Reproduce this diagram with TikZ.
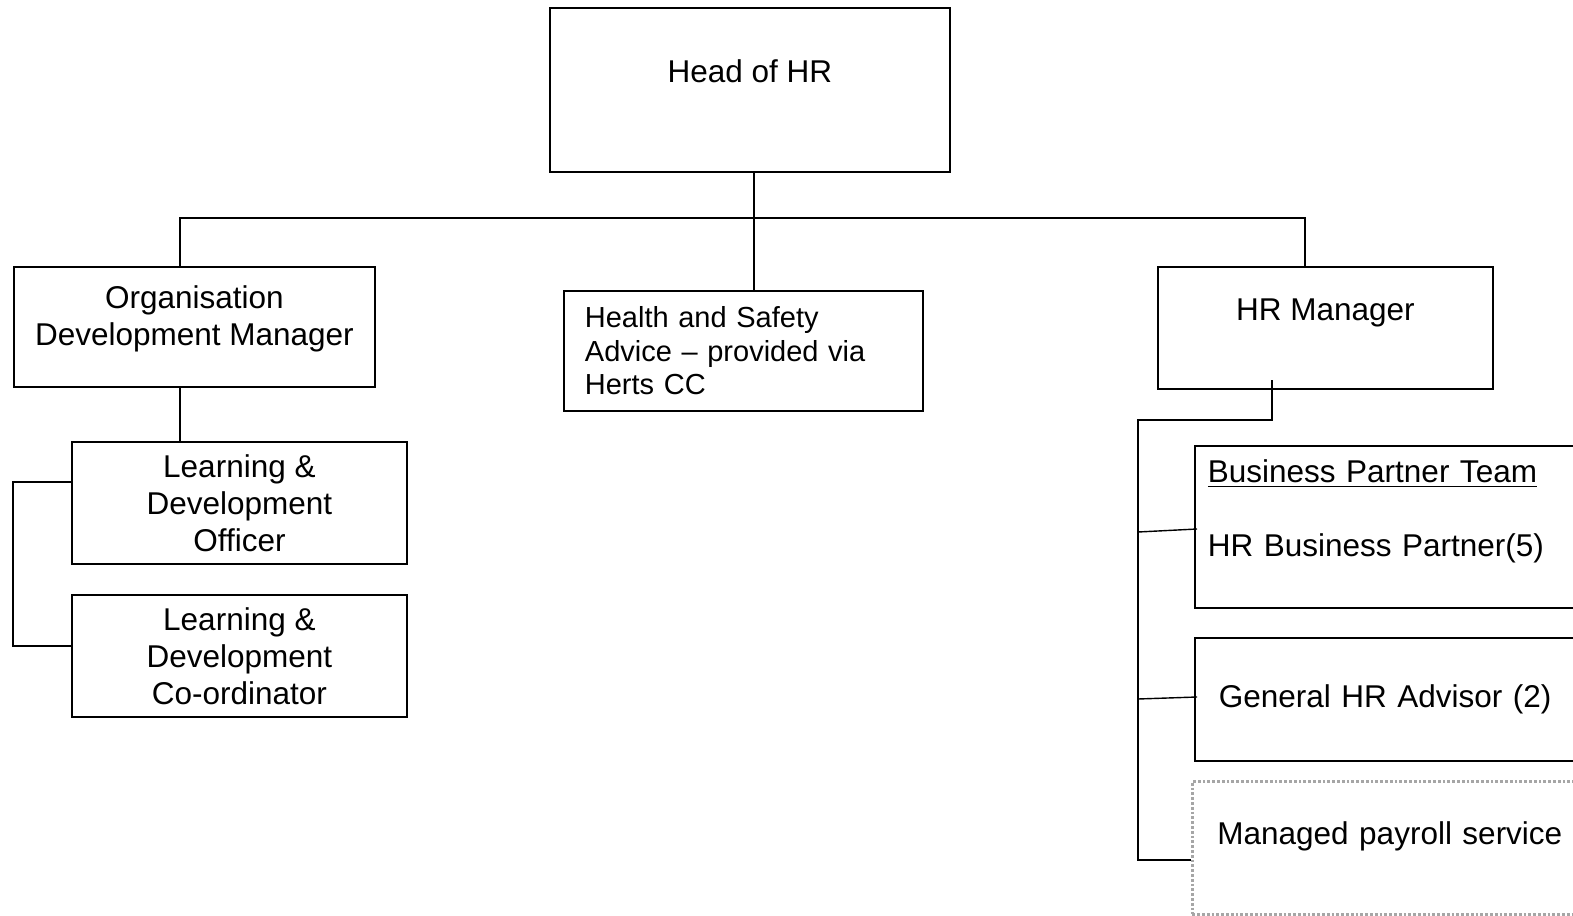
\documentclass[tikz,border=0pt]{standalone}
\usepackage{fontspec}
\setmainfont{Liberation Sans}

\begin{document}
\begin{tikzpicture}[x=0.5pt,y=-0.5pt,line width=0.9pt,
    font=\fontsize{15.75}{18.5}\selectfont,
    box/.style={draw,rectangle,anchor=north west,inner sep=0pt,align=center},
    leftbox/.style={box,align=left},
    payrollbox/.style={leftbox,draw=gray!70,densely dotted,line width=1.4pt}]
  \useasboundingbox (0,0) rectangle (1573,915);
  \clip (0,0) rectangle (1573,915);

  % top
  \node[box,minimum width=200pt,minimum height=82pt] (head) at (549,7) {Head of HR\\ ~};

  % second row
  \node[box,minimum width=180.5pt,minimum height=60pt] (odm) at (13,266)
    {Organisation\\Development Manager\\[-7.5pt] ~};
  \node[leftbox,minimum width=179.5pt,minimum height=60pt,text width=158.5pt,
    font=\fontsize{14.5}{16.75}\selectfont] (hs) at (563,290)
    {Health and Safety\\Advice -- provided via\\Herts CC};
  \node[box,minimum width=167.5pt,minimum height=61pt] (hrm) at (1157,266) {HR Manager\\ ~};

  % learning and development
  \node[box,minimum width=167.5pt,minimum height=61pt] (ldo) at (71,441)
    {Learning \&\\Development\\Officer};
  \node[box,minimum width=167.5pt,minimum height=61pt] (ldc) at (71,594)
    {Learning \&\\Development\\Co-ordinator};

  % hr manager team
  \node[leftbox,minimum width=210pt,minimum height=81pt,text width=197pt] (bp) at (1194,445)
    {\underline{Business Partner Team}\\ ~\\HR Business Partner(5)\\ ~};
  \node[leftbox,minimum width=210pt,minimum height=61.5pt,text width=186pt] (ghr) at (1194,637)
    {General HR Advisor (2)};
  \node[payrollbox,minimum width=210pt,minimum height=66.5pt,text width=185pt] (pay) at (1191,780)
    {Managed payroll service\\[-4pt] ~};

  % connectors
  \coordinate (bus) at (754,218);
  \coordinate (busL) at (180,218);
  \coordinate (busR) at (1305,218);
  \draw (bus |- head.south) -- (bus |- hs.north);
  \draw (busL |- odm.north) -- (busL) -- (busR) -- (busR |- hrm.north);
  \draw (busL |- odm.south) -- (busL |- ldo.north);
  \draw (ldo.west |- 0,482) -- (13,482) |- (ldc.west |- 0,646);

  \coordinate (hrtap) at (1272,380);
  \coordinate (spine) at (1138,420);
  \draw (hrtap) |- (spine) -- (spine |- 0,860) -- (pay.west |- 0,860);
  \draw[line width=0.7pt] (spine |- 0,532) -- (1197,529);
  \draw[line width=0.7pt] (spine |- 0,699) -- (1197,697);
\end{tikzpicture}
\end{document}
